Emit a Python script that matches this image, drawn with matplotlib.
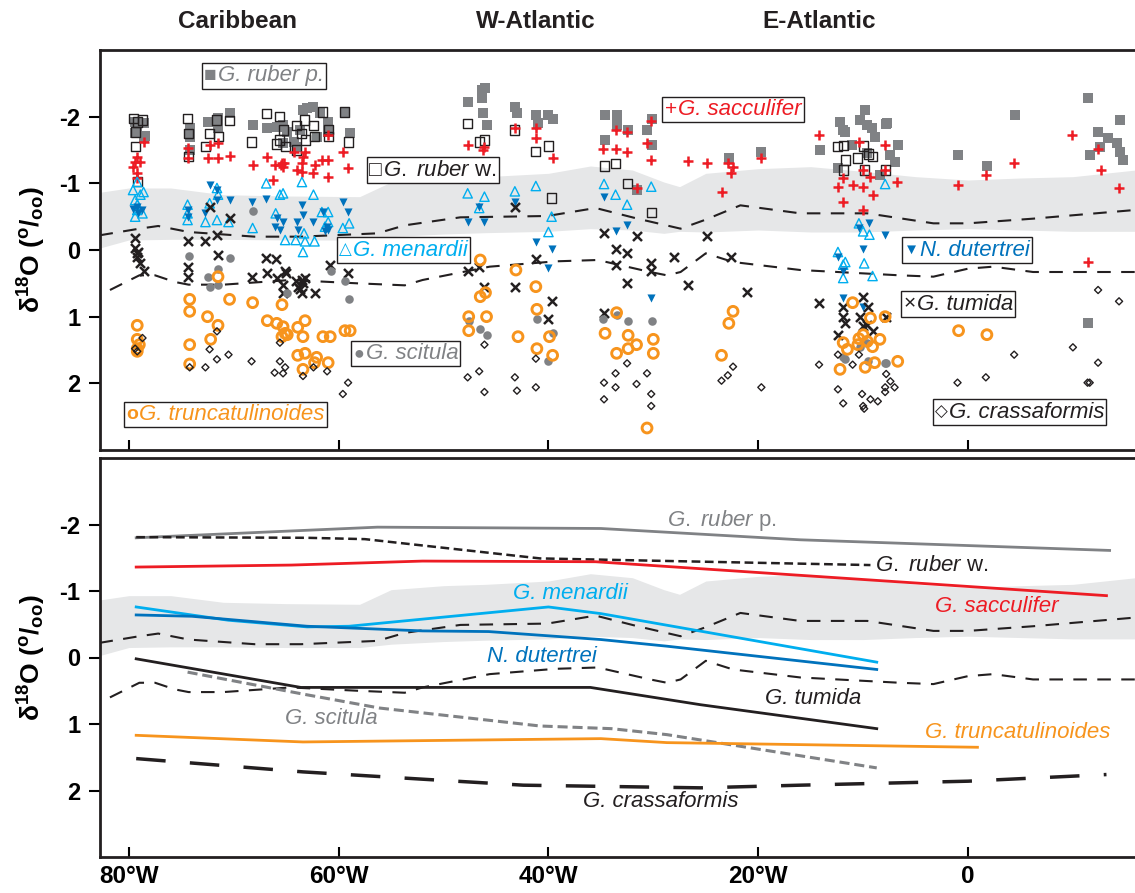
import matplotlib
matplotlib.use('Agg')
import matplotlib.pyplot as plt
from matplotlib.transforms import blended_transform_factory
from matplotlib.offsetbox import TextArea, HPacker, AnnotationBbox

plt.rcParams['font.family'] = ['Liberation Sans', 'DejaVu Sans']
plt.rcParams['mathtext.fontset'] = 'custom'
plt.rcParams['mathtext.rm'] = 'Liberation Sans'
plt.rcParams['mathtext.it'] = 'Liberation Sans:italic'
plt.rcParams['mathtext.bf'] = 'Liberation Sans:bold'

# ---------------- data (longitude, d18O) ----------------
ruber_p = [(-79.4,-1.92),(-79.2,-1.84),(-78.6,-1.90),(-79.4,-1.75),(-78.5,-1.71),(-78.6,-1.70),
    (-74.2,-1.83),(-74.2,-1.70),(-74.2,-1.50),(-72.5,-1.92),(-71.5,-1.98),(-71.5,-1.83),(-70.4,-2.06),
    (-68.2,-1.87),(-66.8,-1.83),(-65.9,-1.85),(-65.3,-1.87),(-64.9,-1.77),(-63.7,-1.80),(-63.4,-2.10),
    (-62.4,-2.15),(-61.8,-2.05),(-61.0,-1.92),(-62.1,-1.70),(-61.0,-1.77),(-59.4,-2.05),(-58.9,-1.75),
    (-65.3,-1.60),(-64.0,-1.55),(-63.0,-2.13),(-64.3,-1.62),
    (-47.7,-2.22),(-46.3,-2.40),(-46.3,-2.28),(-46.2,-2.05),(-45.9,-1.87),(-46.0,-2.43),(-43.2,-2.15),
    (-43.0,-2.05),(-41.2,-2.02),(-41.0,-1.90),(-40.0,-2.02),(-39.6,-1.97),(-34.6,-2.02),(-33.5,-2.02),
    (-33.5,-1.87),(-32.4,-1.80),(-34.6,-1.65),(-30.6,-1.80),(-30.1,-1.97),(-30.1,-1.57),(-31.6,-0.90),
    (-22.8,-1.38),(-19.7,-1.47),(-9.8,-2.10),(-12.2,-1.92),(-11.9,-1.80),(-10.3,-1.95),(-9.6,-1.87),
    (-9.2,-1.83),(-8.9,-1.70),(-7.7,-1.90),(-6.7,-1.57),(-7.4,-1.42),(-7.0,-1.32),(-14.1,-1.50),
    (-12.4,-1.23),(-11.1,-1.57),(-9.6,-1.45),(-8.4,-1.13),(-11.7,-1.77),(-7.8,-1.89),
    (-1.0,-1.42),(1.8,-1.26),(4.5,-2.02),(11.4,-2.28),(14.5,-1.95),(12.4,-1.77),(13.3,-1.68),
    (12.6,-1.55),(11.6,-1.43),(14.2,-1.60),(14.5,-1.47),(14.8,-1.35),(11.4,1.09)]

ruber_w = [(-79.6,-1.97),(-79.2,-1.92),(-78.7,-1.95),(-79.4,-1.77),(-79.4,-1.55),(-79.2,-1.03),
    (-74.4,-1.97),(-74.3,-1.75),(-74.3,-1.40),(-72.7,-1.55),(-72.3,-1.75),(-71.6,-1.95),(-71.5,-1.70),(-70.4,-1.94),
    (-68.3,-1.62),(-66.9,-2.05),(-65.6,-2.00),(-65.9,-1.59),(-65.3,-1.80),(-65.1,-1.55),(-65.6,-1.65),
    (-64.0,-1.87),(-63.5,-1.75),(-63.3,-1.95),(-62.4,-1.87),(-63.2,-1.65),(-62.3,-1.70),(-61.5,-2.07),
    (-61.0,-1.81),(-61.0,-1.70),(-59.4,-2.07),(-59.1,-1.62),(-64.0,-1.50),
    (-47.7,-1.90),(-46.6,-1.62),(-46.1,-1.65),(-43.2,-1.80),(-41.2,-1.48),(-40.0,-1.56),(-39.7,-0.78),
    (-34.7,-1.26),(-33.6,-1.30),(-32.5,-1.00),(-30.2,-0.56),
    (-12.4,-1.55),(-11.9,-1.57),(-11.7,-1.35),(-11.9,-1.20),(-10.5,-1.38),(-10.0,-1.56),(-9.5,-1.44),
    (-9.1,-1.40),(-9.9,-1.20),(-7.9,-1.20)]

sacculifer = [(-78.6,-1.62),(-79.2,-1.40),(-79.4,-1.32),(-78.9,-1.32),(-79.6,-1.25),(-79.2,-1.16),(-79.2,-1.08),
    (-74.4,-1.53),(-74.4,-1.38),(-72.5,-1.38),(-72.3,-1.57),(-71.5,-1.60),(-71.5,-1.38),(-70.4,-1.41),
    (-68.2,-1.28),(-66.8,-1.40),(-66.3,-1.05),(-66.1,-1.28),(-65.4,-1.31),(-65.3,-1.25),(-64.3,-1.47),
    (-64.0,-1.20),(-63.5,-1.17),(-63.5,-1.31),(-63.4,-1.40),(-62.4,-1.16),(-62.3,-1.28),(-61.6,-1.35),
    (-61.0,-1.35),(-61.0,-1.10),(-61.0,-1.72),(-59.6,-1.47),(-59.1,-1.23),(-63.2,-1.47),(-65.5,-1.27),(-65.2,-1.30),
    (-47.7,-1.57),(-46.2,-1.50),(-46.1,-1.55),(-43.2,-1.83),(-41.2,-1.83),(-41.2,-1.68),(-39.6,-1.38),
    (-33.6,-1.80),(-32.5,-1.77),(-34.8,-1.51),(-33.6,-1.51),(-32.5,-1.47),(-30.2,-1.93),(-30.6,-1.60),
    (-30.2,-1.35),(-26.7,-1.34),(-24.9,-1.31),(-31.6,-0.93),
    (-22.9,-1.31),(-22.4,-1.25),(-22.6,-1.15),(-23.5,-0.87),(-19.7,-1.38),(-14.2,-1.72),(-10.4,-1.62),
    (-7.9,-1.57),(-10.0,-1.20),(-9.3,-1.10),(-9.1,-0.83),(-11.9,-1.08),(-12.4,-0.95),(-11.0,-0.97),
    (-10.0,-0.95),(-11.9,-0.72),(-10.0,-0.60),(-6.8,-1.02),(-7.9,-1.20),
    (-1.0,-0.98),(1.7,-1.13),(4.4,-1.30),(9.9,-1.72),(12.4,-1.51),(12.7,-1.20),(14.4,-0.93),(11.4,0.18)]

menardii = [(-79.6,-0.90),(-78.6,-0.87),(-79.4,-0.75),(-79.2,-0.68),(-79.2,-0.60),(-78.7,-0.55),(-79.4,-0.50),
    (-79.2,-1.02),(-78.9,-0.83),
    (-74.4,-0.68),(-74.4,-0.55),(-74.4,-0.45),(-72.7,-0.42),(-72.3,-0.70),(-71.6,-0.93),(-71.5,-0.83),
    (-71.6,-0.45),(-70.5,-0.42),
    (-68.2,-0.33),(-66.9,-1.00),(-66.0,-0.55),(-65.6,-0.83),(-65.3,-0.85),(-65.1,-0.15),(-64.1,-0.15),
    (-63.5,-1.02),(-63.3,-0.25),(-63.2,-0.13),(-63.4,0.03),(-62.4,-0.83),(-62.3,-0.13),(-61.6,-0.57),
    (-61.0,-0.57),(-61.3,-0.35),(-61.0,-0.42),(-59.6,-0.33),(-59.0,-0.40),
    (-47.7,-0.85),(-46.1,-0.80),(-46.6,-0.63),(-43.2,-0.88),(-41.2,-0.96),(-39.7,-0.50),(-40.0,-0.27),
    (-34.7,-0.99),(-33.6,-0.83),(-32.5,-0.68),(-30.2,-0.95),
    (-10.4,-0.40),(-10.0,-0.28),(-9.4,-0.23),(-12.4,0.03),(-11.7,0.18),(-11.9,0.22),(-11.9,0.42),
    (-9.9,0.20),(-9.1,0.39),(-7.9,-0.99)]

dutertrei = [(-79.2,-0.65),(-78.7,-0.60),(-79.1,-0.55),(-79.6,-0.62),
    (-74.4,-0.60),(-74.4,-0.50),(-72.7,-0.55),(-72.3,-0.97),(-71.6,-0.90),(-71.6,-0.75),(-70.4,-0.75),
    (-68.3,-0.72),(-66.9,-0.77),(-66.1,-0.35),(-65.6,-0.30),(-65.3,-0.42),(-64.0,-0.42),(-63.4,-0.53),
    (-63.5,-0.68),(-63.9,-0.30),(-62.4,-0.42),(-61.3,-0.28),(-61.0,-0.30),(-59.6,-0.72),(-59.1,-0.57),
    (-65.9,-0.48),(-61.5,-0.57),(-61.1,-0.35),
    (-47.7,-0.42),(-46.1,-0.42),(-46.6,-0.65),(-43.2,-0.72),(-41.2,-0.12),(-39.7,-0.02),(-40.0,0.27),
    (-34.7,-0.80),(-33.6,-0.29),(-32.5,-0.38),(-30.2,0.72),
    (-9.4,-0.40),(-10.4,-0.33),(-7.9,-0.23),(-10.0,-0.02),(-12.4,0.10),(-11.9,0.32),(-11.9,0.72),(-10.0,0.85)]

tumida = [(-79.4,-0.18),(-79.4,-0.03),(-79.1,0.03),(-79.2,0.10),(-78.9,0.19),(-78.6,0.32),(-79.2,0.05),
    (-74.4,-0.13),(-74.4,0.25),(-74.4,0.40),(-72.7,-0.13),(-72.3,-0.65),(-71.6,-0.23),(-71.5,0.07),(-70.4,-0.48),
    (-68.3,0.41),(-66.9,0.12),(-66.8,0.34),(-65.9,0.42),(-65.3,0.52),(-65.3,0.64),(-65.1,0.32),(-64.1,0.47),
    (-63.9,0.55),(-63.5,0.45),(-63.5,0.64),(-63.2,0.42),(-62.3,0.64),(-60.8,0.22),(-59.1,0.34),(-66.0,0.13),
    (-65.0,0.34),(-63.7,0.59),(-63.4,0.49),
    (-43.2,-0.65),(-47.7,0.31),(-46.6,0.26),(-46.1,0.55),(-43.2,0.55),(-41.2,0.13),(-39.7,0.76),(-40.0,1.03),
    (-34.7,-0.25),(-33.6,-0.02),(-32.5,0.04),(-33.6,0.23),(-32.5,0.49),(-30.2,0.19),(-30.2,0.31),(-31.6,-0.21),
    (-28.0,0.10),(-26.7,0.52),(-34.7,0.94),
    (-24.9,-0.21),(-22.6,0.10),(-21.1,0.63),(-14.2,0.79),(-10.0,0.70),(-9.5,0.85),(-11.9,0.86),(-11.9,1.01),
    (-10.3,1.00),(-9.6,1.12),(-10.0,1.14),(-9.1,1.22),(-12.4,1.27),(-7.8,1.01),(-11.7,1.09)]

scitula = [(-68.2,-0.59),(-74.3,0.09),(-71.5,0.28),(-70.4,0.12),(-72.5,0.41),(-72.3,0.56),(-71.5,0.52),
    (-60.7,0.32),(-59.4,0.47),(-59.0,0.73),(-64.9,0.64),
    (-41.1,1.03),(-47.6,1.06),(-46.5,1.18),(-45.9,1.27),(-39.6,1.24),(-40.0,1.67),(-34.8,1.03),(-33.5,0.97),
    (-32.4,1.06),(-30.1,1.06),
    (-11.9,1.61),(-11.7,1.63),(-10.3,1.46),(-9.6,1.39),(-7.9,1.69),(-9.5,1.67),(-7.8,1.69)]

truncatulinoides = [(-79.2,1.13),(-79.2,1.34),(-79.0,1.42),(-79.2,1.48),(-79.2,1.52),
    (-74.2,0.74),(-74.2,0.92),(-74.2,1.42),(-74.2,1.71),(-71.5,0.40),(-70.4,0.74),(-72.5,1.00),(-71.5,1.13),(-72.2,1.34),
    (-68.2,0.79),(-65.4,0.82),(-66.8,1.06),(-65.9,1.10),(-65.3,1.15),(-65.4,1.30),(-64.9,1.27),(-63.9,1.16),
    (-63.2,1.06),(-63.4,1.30),(-63.9,1.58),(-63.2,1.55),(-62.1,1.61),(-62.3,1.69),(-61.0,1.69),(-63.4,1.79),
    (-61.5,1.30),(-60.8,1.30),(-59.4,1.21),(-58.9,1.21),(-65.1,1.25),
    (-46.5,0.15),(-43.1,0.30),(-41.2,0.55),(-46.5,0.70),(-46.0,0.64),(-47.6,1.00),(-45.9,1.00),(-47.6,1.21),
    (-41.1,0.89),(-42.9,1.30),(-39.9,1.30),(-41.1,1.48),(-39.6,1.58),(-33.5,0.94),(-34.6,1.25),(-32.4,1.28),
    (-31.6,1.42),(-32.4,1.48),(-33.5,1.55),(-30.0,1.34),(-30.0,1.55),(-30.6,2.67),
    (-22.4,0.92),(-22.8,1.10),(-23.5,1.58),(-11.0,0.79),(-9.3,1.02),(-7.9,1.00),(-10.0,1.27),(-10.4,1.33),
    (-9.6,1.37),(-9.1,1.45),(-8.4,1.34),(-11.9,1.39),(-11.5,1.49),(-12.2,1.79),(-9.8,1.76),(-8.9,1.69),
    (-6.7,1.67),(-10.5,1.42),
    (-0.9,1.21),(1.8,1.27)]

crassaformis = [(-79.2,1.52),(-78.7,1.32),(-79.4,1.48),(-74.2,1.76),(-72.7,1.76),(-71.6,1.64),(-72.3,1.49),
    (-71.6,1.22),(-70.5,1.57),(-68.3,1.67),(-65.6,1.39),(-65.6,1.67),(-65.1,1.76),(-66.1,1.84),(-65.3,1.85),
    (-63.4,1.89),(-62.4,1.76),(-61.1,1.82),(-59.1,1.99),(-59.6,2.16),
    (-46.1,1.42),(-41.2,1.63),(-46.6,1.82),(-47.7,1.91),(-46.1,2.13),(-43.2,1.91),(-43.0,2.11),(-41.2,2.06),
    (-32.5,1.70),(-33.6,1.85),(-34.7,1.99),(-33.6,2.06),(-31.6,2.01),(-30.6,1.85),(-34.7,2.24),(-30.2,2.16),(-30.2,2.34),
    (-22.4,1.75),(-22.9,1.88),(-23.5,1.96),(-19.7,2.06),(-14.2,1.72),(-12.4,1.57),(-12.4,2.09),(-11.9,2.30),
    (-10.4,1.57),(-10.1,2.16),(-10.0,2.34),(-9.9,2.38),(-9.3,2.24),(-8.6,2.27),(-7.8,1.86),(-7.4,1.97),
    (-7.9,2.06),(-7.0,2.06),(-11.0,1.72),(-7.9,2.13),
    (-1.0,1.99),(1.7,1.91),(4.4,1.57),(10.0,1.46),(12.4,0.60),(14.4,0.77),(12.4,1.69),(11.4,1.99),(11.6,1.99)]

# mean profiles (bottom panel)
mean_ruber_p = [(-79.3,-1.80),(-56.3,-1.96),(-35.0,-1.94),(-16.0,-1.77),(13.5,-1.61)]
mean_ruber_w = [(-79.3,-1.81),(-63.0,-1.80),(-57.5,-1.78),(-40.8,-1.49),(-9.3,-1.39)]
mean_sacculifer = [(-79.3,-1.36),(-64.5,-1.39),(-52.0,-1.45),(-35.5,-1.44),(13.2,-0.93)]
mean_menardii = [(-79.3,-0.76),(-70.5,-0.56),(-63.0,-0.46),(-59.0,-0.47),(-40.0,-0.76),(-35.0,-0.66),(-8.7,0.07)]
mean_dutertrei = [(-79.3,-0.64),(-74.0,-0.62),(-63.0,-0.47),(-52.0,-0.40),(-45.7,-0.39),(-35.0,-0.27),(-28.7,-0.17),(-8.7,0.18)]
mean_tumida = [(-79.3,0.02),(-63.6,0.45),(-36.0,0.45),(-25.5,0.71),(-8.7,1.07)]
mean_scitula = [(-74.4,0.22),(-63.4,0.55),(-56.1,0.76),(-40.8,1.03),(-34.0,1.07),(-28.7,1.16),(-8.7,1.66)]
mean_truncatulinoides = [(-79.3,1.17),(-63.4,1.27),(-52.0,1.25),(-35.0,1.22),(-28.7,1.28),(0.9,1.35)]
mean_crassaformis = [(-79.3,1.52),(-63.4,1.72),(-52.0,1.83),(-42.4,1.92),(-25.5,1.96),(-16.0,1.92),(0.0,1.86),(13.2,1.76)]

# equilibrium calcite envelope (grey band) and isotherm lines
band_lon = [-83, -80, -76, -71, -65, -58, -55, -50, -46, -40, -36, -32, -29, -27.5, -25, -20, -15, -10, -5, 0, 5, 10, 16]
band_top = [-0.86, -0.93, -0.93, -0.83, -0.81, -0.80, -1.02, -1.08, -1.10, -1.15, -1.26, -1.20, -1.02, -0.95, -1.15,
            -1.22, -1.25, -1.18, -1.10, -1.05, -1.08, -1.10, -1.20]
band_bot = [-0.02, -0.15, -0.16, -0.16, -0.15, -0.15, -0.20, -0.24, -0.26, -0.28, -0.32, -0.30, -0.25, -0.28, -0.27,
            -0.30, -0.27, -0.27, -0.30, -0.32, -0.30, -0.28, -0.28]
upper_lon = [-82.8, -79, -77.2, -74.3, -68, -63.6, -56.3, -53.7, -48.4, -40.1, -35.5, -31.5, -27.4, -25.1, -21.7,
             -16, -9.6, -3.3, 0, 6.2, 15.9]
upper_val = [-0.22, -0.32, -0.36, -0.27, -0.20, -0.20, -0.25, -0.37, -0.49, -0.51, -0.63, -0.47, -0.32, -0.45, -0.67,
             -0.55, -0.55, -0.40, -0.40, -0.47, -0.60]
lower_lon = [-81.8, -79, -77.5, -75.6, -74.3, -71, -64.6, -58.2, -53.7, -52, -45.6, -39.3, -35.3, -30.3, -28.7,
             -27.4, -25, -22.4, -16, -6.5, -3.3, 0, 2.4, 6.2, 15.9]
lower_val = [0.60, 0.38, 0.38, 0.48, 0.52, 0.52, 0.45, 0.50, 0.53, 0.45, 0.25, 0.17, 0.15, 0.33, 0.38,
             0.33, 0.05, 0.18, 0.30, 0.38, 0.40, 0.28, 0.25, 0.33, 0.33]

regions = ['Caribbean', 'W-Atlantic', 'E-Atlantic']
region_lon = [-69.6, -41.2, -14.2]
xtick_pos = [-80, -60, -40, -20, 0]
xtick_labels = ['80°W', '60°W', '40°W', '20°W', '0']
ytick_pos = [-2, -1, 0, 1, 2]
ytick_labels = ['-2', '-1', '0', '1', '2']

# ---------------- colours ----------------
GRAY = '#808285'
RED = '#ed1c24'
CYAN = '#00aeef'
BLUE = '#0072bc'
ORANGE = '#f7941d'
BLACK = '#231f20'
BAND = '#e6e7e8'


def xy(pairs):
    return [p[0] for p in pairs], [p[1] for p in pairs]


fig = plt.figure(figsize=(11.35, 8.93), dpi=100)
L = 100 / 1135
ax1 = fig.add_axes([L, 1 - 450 / 893, 1 - L, 400 / 893])
ax2 = fig.add_axes([L, 1 - 857 / 893, 1 - L, 399 / 893])

ylab = r'$\mathbf{\delta^{18}O\ (^{o}/_{oo})}$'
for ax in (ax1, ax2):
    ax.fill_between(band_lon, band_top, band_bot, color=BAND, lw=0, zorder=0)
    ax.plot(upper_lon, upper_val, color=BLACK, lw=1.5, ls=(0, (6.5, 5.0)), zorder=1)
    ax.plot(lower_lon, lower_val, color=BLACK, lw=1.5, ls=(0, (6.5, 5.0)), zorder=1)
    ax.set_xlim(-82.75, 15.92)
    ax.set_ylim(3, -3)
    ax.set_xticks(xtick_pos)
    ax.set_yticks(ytick_pos)
    ax.set_yticklabels(ytick_labels, fontsize=17, fontweight='bold')
    ax.tick_params(axis='x', direction='in', length=7, width=1.5, pad=6)
    ax.tick_params(axis='y', direction='out', length=8, width=1.5, pad=6)
    for s in ('left', 'top', 'bottom'):
        ax.spines[s].set_linewidth(2)
        ax.spines[s].set_color(BLACK)
    ax.spines['right'].set_visible(False)
    ax.set_ylabel(ylab, fontsize=19)
    ax.yaxis.set_label_coords(-0.050, 0.5)

ax1.set_xticklabels([])
ax2.set_xticklabels(xtick_labels, fontsize=17.5, fontweight='bold')

# ---------------- top panel: individual measurements ----------------
x, y = xy(ruber_p)
ax1.scatter(x, y, marker='s', s=48, color=GRAY, lw=0, zorder=3)
x, y = xy(ruber_w)
ax1.scatter(x, y, marker='s', s=42, facecolor='none', edgecolor=BLACK, lw=1.0, zorder=3)
x, y = xy(sacculifer)
ax1.scatter(x, y, marker='+', s=60, color=RED, lw=1.8, zorder=3)
x, y = xy(menardii)
ax1.scatter(x, y, marker='^', s=45, facecolor='none', edgecolor=CYAN, lw=1.0, zorder=3)
x, y = xy(dutertrei)
ax1.scatter(x, y, marker='v', s=34, color=BLUE, lw=0, zorder=3)
x, y = xy(tumida)
ax1.scatter(x, y, marker='x', s=42, color=BLACK, lw=1.8, zorder=3)
x, y = xy(scitula)
ax1.scatter(x, y, marker='o', s=38, color=GRAY, lw=0, zorder=3)
x, y = xy(truncatulinoides)
ax1.scatter(x, y, marker='o', s=50, facecolor='none', edgecolor=ORANGE, lw=2.1, zorder=3)
x, y = xy(crassaformis)
ax1.scatter(x, y, marker='D', s=13, facecolor='none', edgecolor=BLACK, lw=1.0, zorder=3)

tr = blended_transform_factory(ax1.transData, ax1.transAxes)
for name, lon in zip(regions, region_lon):
    ax1.text(lon, 1.07, name, transform=tr, ha='center', va='center', fontsize=17.5,
             fontweight='bold', color=BLACK)

# boxed species keys: (x, y, symbol, symbol size, label, colour, style)
top_labels = [
    (-67.1, -2.61, '\u25a0', 15, 'G. ruber p.', GRAY, 'italic'),
    (-22.4, -2.11, '+', 15, 'G. sacculifer', RED, 'italic'),
    (-51.0, -1.20, '\u25a1', 15, r'$\mathit{G.\ ruber}$' + ' w.', BLACK, 'normal'),
    (-53.8, 0.00, '\u25b3', 12, 'G. menardii', CYAN, 'italic'),
    (-0.1, 0.00, '\u25bc', 11, 'N. dutertrei', BLUE, 'italic'),
    (-0.95, 0.81, '\u00d7', 15, 'G. tumida', BLACK, 'italic'),
    (-53.6, 1.55, '\u25cf', 13, 'G. scitula', GRAY, 'italic'),
    (-70.8, 2.47, 'o', 14, 'G. truncatulinoides', ORANGE, 'bold'),
    (4.9, 2.43, '\u25c7', 12, 'G. crassaformis', BLACK, 'italic'),
]
for lx, ly, sym, ssz, txt, col, st in top_labels:
    symprops = dict(color=col, fontsize=ssz)
    if st == 'bold':
        symprops['fontweight'] = 'bold'
        st = 'italic'
    sym_area = TextArea(sym, textprops=symprops)
    txt_area = TextArea(txt, textprops=dict(color=col, fontsize=16, fontstyle=st))
    pack = HPacker(children=[sym_area, txt_area], align='center', pad=0, sep=1)
    ab = AnnotationBbox(pack, (lx, ly), xycoords='data', frameon=True, box_alignment=(0.5, 0.5),
                        pad=0.15, bboxprops=dict(edgecolor=BLACK, lw=1, facecolor='white'))
    ab.set_zorder(5)
    ax1.add_artist(ab)

# ---------------- bottom panel: mean profiles ----------------
x, y = xy(mean_ruber_p)
ax2.plot(x, y, color=GRAY, lw=2.0, zorder=3)
x, y = xy(mean_ruber_w)
ax2.plot(x, y, color=BLACK, lw=1.8, ls=(0, (3.5, 1.8)), zorder=3)
x, y = xy(mean_sacculifer)
ax2.plot(x, y, color=RED, lw=2.0, zorder=3)
x, y = xy(mean_menardii)
ax2.plot(x, y, color=CYAN, lw=2.0, zorder=3)
x, y = xy(mean_dutertrei)
ax2.plot(x, y, color=BLUE, lw=2.0, zorder=3)
x, y = xy(mean_tumida)
ax2.plot(x, y, color=BLACK, lw=2.0, zorder=3)
x, y = xy(mean_scitula)
ax2.plot(x, y, color=GRAY, lw=2.2, ls=(0, (3.3, 1.6)), zorder=3)
x, y = xy(mean_truncatulinoides)
ax2.plot(x, y, color=ORANGE, lw=2.0, zorder=3)
x, y = xy(mean_crassaformis)
ax2.plot(x, y, color=BLACK, lw=2.5, ls=(0, (8.5, 7)), zorder=3)

bottom_labels = [
    (-28.7, -2.06, r'$\mathit{G.\ ruber}$' + ' p.', GRAY, 'normal'),
    (-8.9, -1.38, r'$\mathit{G.\ ruber}$' + ' w.', BLACK, 'normal'),
    (-3.1, -0.76, 'G. sacculifer', RED, 'italic'),
    (-43.4, -0.96, 'G. menardii', CYAN, 'italic'),
    (-45.9, -0.01, 'N. dutertrei', BLUE, 'italic'),
    (-19.4, 0.62, 'G. tumida', BLACK, 'italic'),
    (-65.1, 0.92, 'G. scitula', GRAY, 'italic'),
    (-4.1, 1.13, 'G. truncatulinoides', ORANGE, 'italic'),
    (-36.7, 2.16, 'G. crassaformis', BLACK, 'italic'),
]
for lx, ly, txt, col, st in bottom_labels:
    ax2.text(lx, ly, txt, color=col, fontsize=16, fontstyle=st, ha='left', va='center', zorder=5)

fig.savefig('out.png', dpi=100)
